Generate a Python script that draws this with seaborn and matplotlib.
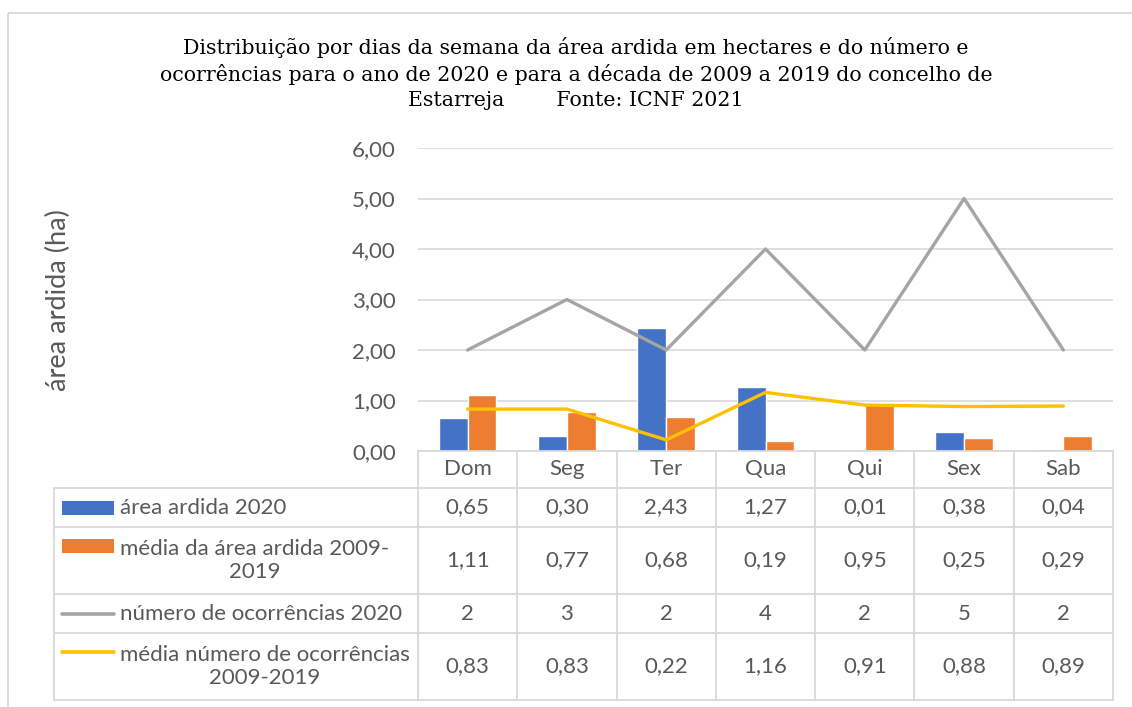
import numpy as np
import pandas as pd
import matplotlib
matplotlib.use("Agg")
import matplotlib.pyplot as plt
from matplotlib.patches import Rectangle
from matplotlib.ticker import FuncFormatter
import seaborn as sns

# --- dados ---
dias = ["Dom", "Seg", "Ter", "Qua", "Qui", "Sex", "Sab"]
area_2020 = [0.65, 0.30, 2.43, 1.27, 0.01, 0.38, 0.04]
media_area_0919 = [1.11, 0.77, 0.68, 0.19, 0.95, 0.25, 0.29]
ocorr_2020 = [2, 3, 2, 4, 2, 5, 2]
media_ocorr_0919 = [0.83, 0.83, 0.22, 1.16, 0.91, 0.88, 0.89]

series = [
    "área ardida 2020",
    "média da área ardida 2009-\n2019",
    "número de ocorrências 2020",
    "média número de ocorrências\n2009-2019",
]

titulo = ("Distribuição por dias da semana da área ardida em hectares e do número e\n"
          "ocorrências para o ano de 2020 e para a década de 2009 a 2019 do concelho de\n"
          "Estarreja        Fonte: ICNF 2021")
ylabel = "área ardida (ha)"

azul, laranja, cinza, amarelo = "#4472C4", "#ED7D31", "#A5A5A5", "#FFC000"
texto = "#595959"
grelha = "#D9D9D9"
fs = 16

sns.set_theme(style="white")
plt.rcParams["font.family"] = ["Lato", "DejaVu Sans"]
plt.rcParams["ytick.major.pad"] = 16
plt.rcParams["xtick.major.pad"] = 6

W, H = 1132, 707
fig = plt.figure(figsize=(W / 100, H / 100), dpi=100)
fig.patch.set_facecolor("white")

ax = fig.add_axes([418 / W, 1 - 451 / H, 695 / W, 303 / H])

barras = pd.DataFrame({
    "dia": dias * 2,
    "valor": area_2020 + media_area_0919,
    "serie": [series[0]] * len(dias) + [series[1]] * len(dias),
})
sns.barplot(data=barras, x="dia", y="valor", hue="serie", order=dias,
            palette=[azul, laranja], width=0.58, gap=0, saturation=1,
            legend=False, ax=ax, zorder=2)

pos = np.arange(len(dias))
sns.lineplot(x=pos, y=ocorr_2020, color=cinza, lw=2.4, sort=False, ax=ax, zorder=3)
sns.lineplot(x=pos, y=media_ocorr_0919, color=amarelo, lw=2.4, sort=False, ax=ax, zorder=4)

ax.set_xlim(-0.5, len(dias) - 0.5)
ax.set_ylim(0, 6)
ax.set_yticks(np.arange(0, 7, 1))
ax.yaxis.set_major_formatter(FuncFormatter(lambda v, p: f"{v:.2f}".replace(".", ",")))
ax.grid(axis="y", color=grelha, lw=1.2, zorder=0)
ax.set_axisbelow(True)
for s in ax.spines.values():
    s.set_visible(False)
ax.tick_params(axis="y", length=0, pad=16, labelsize=fs, labelcolor=texto)
ax.tick_params(axis="x", length=0, pad=6, labelsize=fs, labelcolor=texto)
ax.set_xlabel("")
ax.set_ylabel("")

# titulo e rotulo do eixo
fig.text(576 / W, 1 - 73.5 / H, titulo, ha="center", va="center", fontsize=14.8,
         family=["DejaVu Serif"], color="black", linespacing=1.36)
fig.text(58 / W, 1 - 300 / H, ylabel, rotation=90, ha="center", va="center",
         fontsize=19.5, color=texto)

# --- tabela de dados por baixo do grafico ---
tab = fig.add_axes([0, 0, 1, 1], facecolor="none")
tab.set_xlim(0, W)
tab.set_ylim(H, 0)
tab.axis("off")

def px(xd):
    return ax.transData.transform((xd, 0))[0]

bordas = [px(i - 0.5) for i in range(len(dias) + 1)]
centros = [px(i) for i in range(len(dias))]
linhas_y = [488, 527, 594, 633, 700]
lc = dict(color=grelha, lw=1.3)

# moldura do grafico
tab.add_patch(Rectangle((8, 13), W + 20, H + 20, fill=False, ec=grelha, lw=1.3))

tab.plot([bordas[0], bordas[-1]], [451, 451], **lc)
for y in linhas_y:
    tab.plot([54, bordas[-1]], [y, y], **lc)
for x in bordas:
    tab.plot([x, x], [451, linhas_y[-1]], **lc)
tab.plot([54, 54], [linhas_y[0], linhas_y[-1]], **lc)

valores = [
    [f"{v:.2f}".replace(".", ",") for v in area_2020],
    [f"{v:.2f}".replace(".", ",") for v in media_area_0919],
    [str(v) for v in ocorr_2020],
    [f"{v:.2f}".replace(".", ",") for v in media_ocorr_0919],
]
cores = [azul, laranja, cinza, amarelo]
for r in range(4):
    y0, y1 = linhas_y[r], linhas_y[r + 1]
    yc = (y0 + y1) / 2
    duas = "\n" in series[r]
    yk = yc - 14.5 if duas else yc
    if r < 2:
        tab.add_patch(Rectangle((62, yk - 7), 52, 14, color=cores[r], lw=0))
    else:
        tab.plot([62, 114], [yk, yk], color=cores[r], lw=2.6, solid_capstyle="round")
    tab.text(120, yc, series[r], ha="left", va="center", multialignment="center",
             fontsize=fs, color=texto, linespacing=1.2)
    for c, xc in enumerate(centros):
        tab.text(xc, yc, valores[r][c], ha="center", va="center",
                 fontsize=fs, color=texto)

fig.savefig("out.png", dpi=100)
